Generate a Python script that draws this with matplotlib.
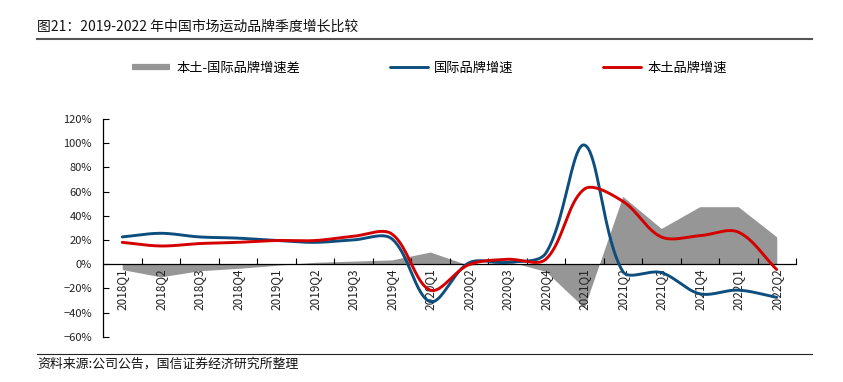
import numpy as np
import matplotlib
matplotlib.use("Agg")
import matplotlib.pyplot as plt
from matplotlib.lines import Line2D
from matplotlib.ticker import FuncFormatter

plt.rcParams['font.family'] = ['Noto Sans CJK SC', 'DejaVu Sans']
plt.rcParams['axes.unicode_minus'] = False

# ---------------- data ----------------
quarters = ["2018Q1", "2018Q2", "2018Q3", "2018Q4",
            "2019Q1", "2019Q2", "2019Q3", "2019Q4",
            "2020Q1", "2020Q2", "2020Q3", "2020Q4",
            "2021Q1", "2021Q2", "2021Q3", "2021Q4",
            "2022Q1", "2022Q2"]
intl_growth = [22.5, 25.5, 22.5, 21.5, 19.5, 18.0, 20.0, 21.0,
               -31.0, 1.0, 1.5, 9.0, 98.5, -6.0, -7.0, -24.5, -21.5, -27.5]
local_growth = [18.0, 15.0, 17.0, 18.0, 19.5, 19.5, 23.0, 25.0,
                -21.5, -0.5, 4.0, 4.0, 62.0, 52.0, 22.5, 23.5, 26.5, -4.5]
growth_gap = [-4.5, -10.5, -5.5, -3.5, -1.0, 1.5, 2.5, 3.5,
              10.0, -1.0, 2.5, -6.0, -36.0, 56.0, 29.5, 47.5, 47.5, 22.5]
y_ticks = [-60, -40, -20, 0, 20, 40, 60, 80, 100, 120]

title = "图21：2019-2022 年中国市场运动品牌季度增长比较"
source = "资料来源:公司公告，国信证券经济研究所整理"
legend_labels = ["本土-国际品牌增速差", "国际品牌增速", "本土品牌增速"]


def smooth(values, sx, sy, samples=40):
    """Excel-like smoothed line: cubic Bezier through every point, with
    control-point lengths proportional to neighbouring segment lengths (screen space)."""
    y = np.asarray(values, dtype=float)
    x = np.arange(len(y), dtype=float)
    P = np.column_stack([x * sx, y * sy])
    n = len(P)

    def ctrl(i):
        prev_p = P[i - 1] if i > 0 else P[i]
        next_p = P[i + 1] if i < n - 1 else P[i]
        T = next_p - prev_p
        d0 = np.hypot(*(P[i] - prev_p))
        d1 = np.hypot(*(next_p - P[i]))
        tot = d0 + d1
        if tot == 0:
            return P[i], P[i]
        c_in = P[i] - T * (d0 / tot) / 3
        c_out = P[i] + T * (d1 / tot) / 3
        return c_in, c_out

    ctrls = [ctrl(i) for i in range(n)]
    t = np.linspace(0, 1, samples)[:, None]
    segs = []
    for i in range(n - 1):
        p1, p2 = P[i], P[i + 1]
        b1 = ctrls[i][1]
        b2 = ctrls[i + 1][0]
        B = (1 - t) ** 3 * p1 + 3 * (1 - t) ** 2 * t * b1 + 3 * (1 - t) * t ** 2 * b2 + t ** 3 * p2
        segs.append(B if i == 0 else B[1:])
    B = np.vstack(segs)
    return B[:, 0] / sx, B[:, 1] / sy


W, H = 843, 382
fig = plt.figure(figsize=(W / 100, H / 100), dpi=100)
ax_w, ax_h = (796 - 103), (336.7 - 119)
ax = fig.add_axes([103 / W, 1 - 336.7 / H, ax_w / W, ax_h / H])

x = np.arange(len(quarters))
gray = '#969696'
blue = '#0D4E7E'
red = '#D40000'

ax.set_xlim(-0.5, len(quarters) - 0.5)
ax.set_ylim(y_ticks[0], y_ticks[-1])
sx = ax_w / (ax.get_xlim()[1] - ax.get_xlim()[0])
sy = ax_h / (ax.get_ylim()[1] - ax.get_ylim()[0])

ax.fill_between(x, 0, growth_gap, color=gray, linewidth=0, zorder=1)
bx, by = smooth(intl_growth, sx, sy)
l_blue, = ax.plot(bx, by, color=blue, lw=2.1, zorder=3, solid_capstyle='round')
rx, ry = smooth(local_growth, sx, sy)
l_red, = ax.plot(rx, ry, color=red, lw=2.1, zorder=4, solid_capstyle='round')

for s in ['top', 'right']:
    ax.spines[s].set_visible(False)
ax.spines['bottom'].set_position(('data', 0))
ax.spines['bottom'].set_color('#000000')
ax.spines['bottom'].set_linewidth(0.9)
ax.spines['left'].set_color('#000000')
ax.spines['left'].set_linewidth(0.9)
ax.spines['bottom'].set_zorder(2)

ax.set_yticks(y_ticks)
ax.yaxis.set_major_formatter(FuncFormatter(lambda v, p: f"{int(v)}%".replace('-', '\u2212')))
ax.tick_params(axis='y', direction='in', length=4, width=0.8, labelsize=8,
               pad=8, labelcolor='#222222')

ax.set_xticks(np.arange(0.5, len(quarters), 1.0))
ax.set_xticklabels([])
ax.set_xticks(x, minor=True)
ax.set_xticklabels(quarters, minor=True, rotation=90, fontsize=8.5, color='#222222')
ax.tick_params(axis='x', which='major', direction='in', length=4, width=0.8)
ax.tick_params(axis='x', which='minor', length=0, pad=3)

# legend
h_area = Line2D([], [], color=gray, lw=4.5, solid_capstyle='butt')
fig.legend([h_area, l_blue, l_red], legend_labels, ncol=3, frameon=False,
           loc='center left', bbox_to_anchor=(132 / W, 1 - 68 / H),
           fontsize=9.5, handlelength=2.9, handletextpad=0.45,
           columnspacing=6.8, borderaxespad=0, borderpad=0)

# title and source
fig.text(37 / W, 1 - 27 / H, title, fontsize=10, va='center', ha='left', color='#111111')
fig.add_artist(Line2D([37 / W, 812 / W], [1 - 39 / H, 1 - 39 / H], color='#555555', lw=1.5))
fig.add_artist(Line2D([37 / W, 812 / W], [1 - 354 / H, 1 - 354 / H], color='#222222', lw=0.8))
fig.text(37 / W, 1 - 364 / H, source, fontsize=9.3, va='center', ha='left', color='#111111')

fig.savefig("out.png", dpi=100)
